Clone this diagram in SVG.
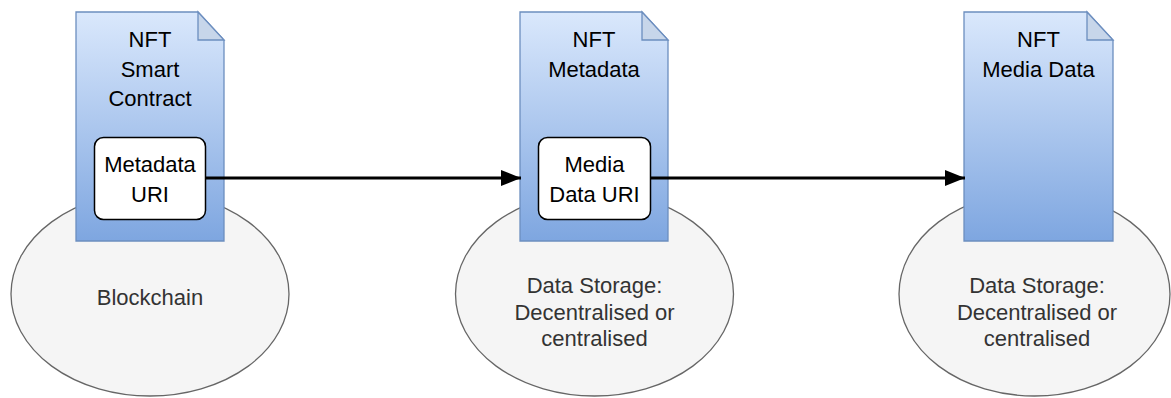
<svg xmlns="http://www.w3.org/2000/svg" width="1171" height="398" viewBox="0 0 1171 398">
  <defs>
    <linearGradient id="docFill" x1="0" y1="0" x2="0" y2="1">
      <stop offset="0" stop-color="#dae8fc"/>
      <stop offset="1" stop-color="#7ea6e0"/>
    </linearGradient>
    <marker id="arrowHead" viewBox="0 0 20 16" refX="20" refY="8" markerWidth="20" markerHeight="16" markerUnits="userSpaceOnUse" orient="auto">
      <path d="M0,0 L20,8 L0,16 Z" fill="#000"/>
    </marker>
    <style>
      .store { fill: #f5f5f5; stroke: #666666; stroke-width: 1.3; }
      .store-label { font-family: "Liberation Sans", Arial, Helvetica, sans-serif; font-size: 22px; fill: #333333; text-anchor: middle; }
      .doc { fill: url(#docFill); stroke: #6c8ebf; stroke-width: 1.3; }
      .fold { fill: #c7d6ea; stroke: #6c8ebf; stroke-width: 1.3; }
      .doc-label { font-family: "Liberation Sans", Arial, Helvetica, sans-serif; font-size: 22px; fill: #000000; text-anchor: middle; }
      .uri { fill: #ffffff; stroke: #000000; stroke-width: 1.5; }
      .link { fill: none; stroke: #000000; stroke-width: 3; marker-end: url(#arrowHead); }
    </style>
  </defs>
  <rect width="1171" height="398" fill="#ffffff"/>

  <!-- storage layers -->
  <g id="blockchain">
    <ellipse class="store" cx="150" cy="294" rx="139" ry="102"/>
    <text class="store-label" x="150" y="305">Blockchain</text>
  </g>
  <g id="metadata-storage">
    <ellipse class="store" cx="594.5" cy="294" rx="139" ry="102"/>
    <text class="store-label" x="594.5" y="293">Data Storage:</text>
    <text class="store-label" x="594.5" y="319.5">Decentralised or</text>
    <text class="store-label" x="594.5" y="346">centralised</text>
  </g>
  <g id="media-storage">
    <ellipse class="store" cx="1034.5" cy="294" rx="135.5" ry="102"/>
    <text class="store-label" x="1037" y="293">Data Storage:</text>
    <text class="store-label" x="1037" y="319.5">Decentralised or</text>
    <text class="store-label" x="1037" y="346">centralised</text>
  </g>

  <!-- documents -->
  <g id="smart-contract">
    <path class="doc" d="M76,12 H198 L224,40 V241 H76 Z"/>
    <path class="fold" d="M198,12 V40 H224 Z"/>
    <text class="doc-label" x="150" y="47">NFT</text>
    <text class="doc-label" x="150" y="76.5">Smart</text>
    <text class="doc-label" x="150" y="105.5">Contract</text>
    <g id="metadata-uri">
      <rect class="uri" x="94.5" y="137.5" width="111" height="82" rx="9"/>
      <text class="doc-label" x="150" y="171.5">Metadata</text>
      <text class="doc-label" x="150" y="202">URI</text>
    </g>
  </g>
  <g id="nft-metadata">
    <path class="doc" d="M520,12 H642 L668,40 V241 H520 Z"/>
    <path class="fold" d="M642,12 V40 H668 Z"/>
    <text class="doc-label" x="594" y="47">NFT</text>
    <text class="doc-label" x="594" y="76.5">Metadata</text>
    <g id="media-data-uri">
      <rect class="uri" x="538.5" y="137.5" width="112" height="82" rx="9"/>
      <text class="doc-label" x="594.5" y="172">Media</text>
      <text class="doc-label" x="594.5" y="202">Data URI</text>
    </g>
  </g>
  <g id="nft-media-data">
    <path class="doc" d="M964,12 H1087 L1113,40 V241 H964 Z"/>
    <path class="fold" d="M1087,12 V40 H1113 Z"/>
    <text class="doc-label" x="1038.5" y="47">NFT</text>
    <text class="doc-label" x="1038.5" y="76.5">Media Data</text>
  </g>

  <!-- connectors -->
  <g id="connectors">
    <line class="link" x1="206" y1="178" x2="521" y2="178"/>
    <line class="link" x1="651" y1="178" x2="965" y2="178"/>
  </g>
</svg>
